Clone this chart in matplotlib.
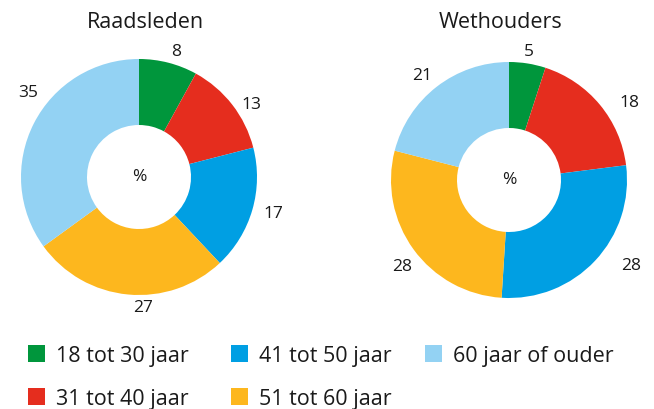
import numpy as np
import matplotlib.pyplot as plt
from matplotlib.patches import Rectangle

plt.rcParams['font.family'] = ['Open Sans', 'DejaVu Sans']

# Données
categories = ['18 tot 30 jaar', '31 tot 40 jaar', '41 tot 50 jaar',
              '51 tot 60 jaar', '60 jaar of ouder']
raadsleden = [8, 13, 17, 27, 35]
wethouders = [5, 18, 28, 28, 21]
colors = ['#00963c', '#e52d1e', '#009fe3', '#fdb71e', '#93d2f3']

W, H = 654, 409
fig = plt.figure(figsize=(W / 100, H / 100), dpi=100)
ax = fig.add_axes([0, 0, 1, 1])

R = 118
hole = 52
# (titre, valeurs, centre, position du titre, décalage des étiquettes en degrés, distances)
donuts = [
    ('Raadsleden', raadsleden, (139, H - 177), 145,
     [2, 5, -1, -7, 10], [1.10, 1.13, 1.18, 1.11, 1.18]),
    ('Wethouders', wethouders, (509, H - 180), 501,
     [0, 7, -8, -3, -2], [1.10, 1.21, 1.27, 1.17, 1.15]),
]

for title, vals, c, tx, nudge, dist in donuts:
    ax.pie(vals, colors=colors, startangle=90, counterclock=False,
           center=c, radius=R,
           wedgeprops={'width': R - hole, 'linewidth': 0})
    # étiquettes placées autour de l'anneau
    cum = np.cumsum(vals) - np.array(vals) / 2
    for v, m, dn, d in zip(vals, cum, nudge, dist):
        ang = np.deg2rad(m / sum(vals) * 360 + dn)
        ax.text(c[0] + d * R * np.sin(ang), c[1] + d * R * np.cos(ang),
                str(v), ha='center', va='center', fontsize=12.5,
                color='#1a1a1a')
    ax.text(c[0], c[1], '%', ha='center', va='center', fontsize=12.5,
            color='#1a1a1a')
    ax.text(tx, H - 28, title, ha='center', va='baseline', fontsize=15.5,
            color='#1a1a1a')

# Légende manuelle (3 colonnes, 2 lignes)
col_x = [28, 231, 425]
row_y = [H - 362, H - 405]
sq = 17
for i, (lab, col) in enumerate(zip(categories, colors)):
    x = col_x[i // 2]
    y = row_y[i % 2]
    ax.add_patch(Rectangle((x, y), sq, sq, facecolor=col, edgecolor='none'))
    ax.text(x + sq + 11, y, lab, ha='left', va='baseline', fontsize=15.5,
            color='#1a1a1a')

ax.set_xlim(0, W)
ax.set_ylim(0, H)
ax.set_aspect('equal')
ax.axis('off')

plt.savefig('out.png', dpi=100)
